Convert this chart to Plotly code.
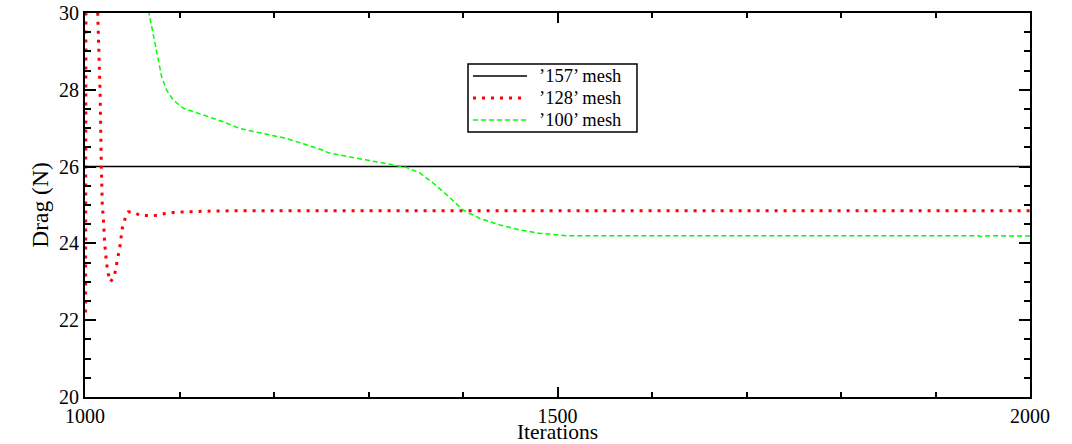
import plotly.graph_objects as go

# Data
iters_157 = [1000, 2000]
drag_157 = [26.0, 26.0]

iters_128 = [1000.6, 1001.2, 1005, 1010, 1014, 1016, 1017.3, 1018.3, 1019.8, 1020.8, 1022.9, 1024.7,
             1027, 1029, 1031, 1033, 1035, 1036.5, 1037.5, 1039, 1041, 1043, 1046, 1052, 1058,
             1065, 1072, 1078, 1085, 1095, 1110, 1130, 1160, 1200, 1300, 1500, 1750, 2000]
drag_128 = [22.2, 34, 37, 33, 30, 27.9, 26.0, 25.0, 24.5, 24.0, 23.46, 23.2,
            23.0, 23.08, 23.15, 23.4, 23.7, 23.85, 24.0, 24.35, 24.55, 24.7, 24.82, 24.81, 24.73,
            24.72, 24.72, 24.74, 24.78, 24.81, 24.83, 24.84, 24.85, 24.85, 24.85, 24.85, 24.85, 24.85]

iters_100 = [1050, 1060, 1067.7, 1075.8, 1081.1, 1086.4, 1093.5, 1104, 1125, 1146, 1164, 1189,
             1210, 1228, 1242, 1249, 1259, 1270, 1298, 1319, 1340, 1354, 1369, 1383, 1400, 1418,
             1439, 1460, 1482, 1510, 1545, 1600, 1700, 1800, 1900, 1945, 1950, 1955, 2000]
drag_100 = [34, 31.3, 30, 29.04, 28.34, 27.99, 27.73, 27.52, 27.34, 27.17, 26.99, 26.87,
            26.75, 26.62, 26.52, 26.45, 26.35, 26.3, 26.17, 26.09, 25.98, 25.84, 25.56, 25.26, 24.87, 24.65,
            24.48, 24.35, 24.26, 24.2, 24.2, 24.2, 24.2, 24.2, 24.2, 24.2, 24.17, 24.2, 24.19]

names = ["\u2019157\u2019 mesh", "\u2019128\u2019 mesh", "\u2019100\u2019 mesh"]

x_tickvals = [1000, 1500, 2000]
y_tickvals = [20, 22, 24, 26, 28, 30]
x_title = "Iterations"
y_title = "Drag (N)"

FONT = "Liberation Serif, Times New Roman, serif"

styles = [
    dict(color="#000000", width=1.5),
    dict(color="#ff0000", width=3, dash="3px,6px"),
    dict(color="#00ff00", width=1.5, dash="5px,3px"),
]
series = [(iters_157, drag_157), (iters_128, drag_128), (iters_100, drag_100)]

fig = go.Figure()
for (xs, ys), nm, st in zip(series, names, styles):
    fig.add_trace(go.Scatter(x=xs, y=ys, mode="lines", name=nm, line=st, showlegend=False))

axis_common = dict(
    showline=True, linecolor="black", linewidth=2, mirror="ticks",
    ticks="inside", tickcolor="black", tickwidth=1.5,
    showgrid=False, zeroline=False, automargin=False,
    tickfont=dict(family=FONT, size=20, color="black"),
)

fig.update_xaxes(range=[1000, 2000], tickvals=x_tickvals, ticklen=10,
                 minor=dict(dtick=100, ticks="inside", ticklen=5, tickwidth=1.5, tickcolor="black"),
                 title=dict(text=x_title, font=dict(family=FONT, size=21.5, color="black"),
                            standoff=10),
                 **axis_common)
fig.update_yaxes(range=[20, 30], tickvals=y_tickvals, ticklen=11,
                 minor=dict(dtick=0.5, ticks="inside", ticklen=6, tickwidth=1.5, tickcolor="black"),
                 title=dict(text=y_title, font=dict(family=FONT, size=23.5, color="black"),
                            standoff=4),
                 **axis_common)

# Legend box drawn in paper coordinates
leg_x0, leg_x1 = 0.4053, 0.5841
leg_y0, leg_y1 = 0.6901, 0.8672
row_y = [0.8359, 0.7786, 0.7214]
sample_x0, sample_x1 = 0.4106, 0.4677
text_x = 0.4794

fig.add_shape(type="rect", xref="paper", yref="paper", x0=leg_x0, x1=leg_x1, y0=leg_y0, y1=leg_y1,
              line=dict(color="black", width=1.5), fillcolor="white", layer="above")
for ry, nm, st in zip(row_y, names, styles):
    fig.add_shape(type="line", xref="paper", yref="paper", x0=sample_x0, x1=sample_x1, y0=ry, y1=ry,
                  line=st, layer="above")
    fig.add_annotation(xref="paper", yref="paper", x=text_x, y=ry, text=nm, showarrow=False,
                       xanchor="left", yanchor="middle", borderpad=0,
                       font=dict(family=FONT, size=18.5, color="black"))

fig.update_layout(
    width=1072, height=444,
    margin=dict(l=85, r=42, t=13, b=47),
    paper_bgcolor="white", plot_bgcolor="white",
    font=dict(family=FONT, size=20, color="black"),
    showlegend=False,
)

fig.write_html("out.html")
